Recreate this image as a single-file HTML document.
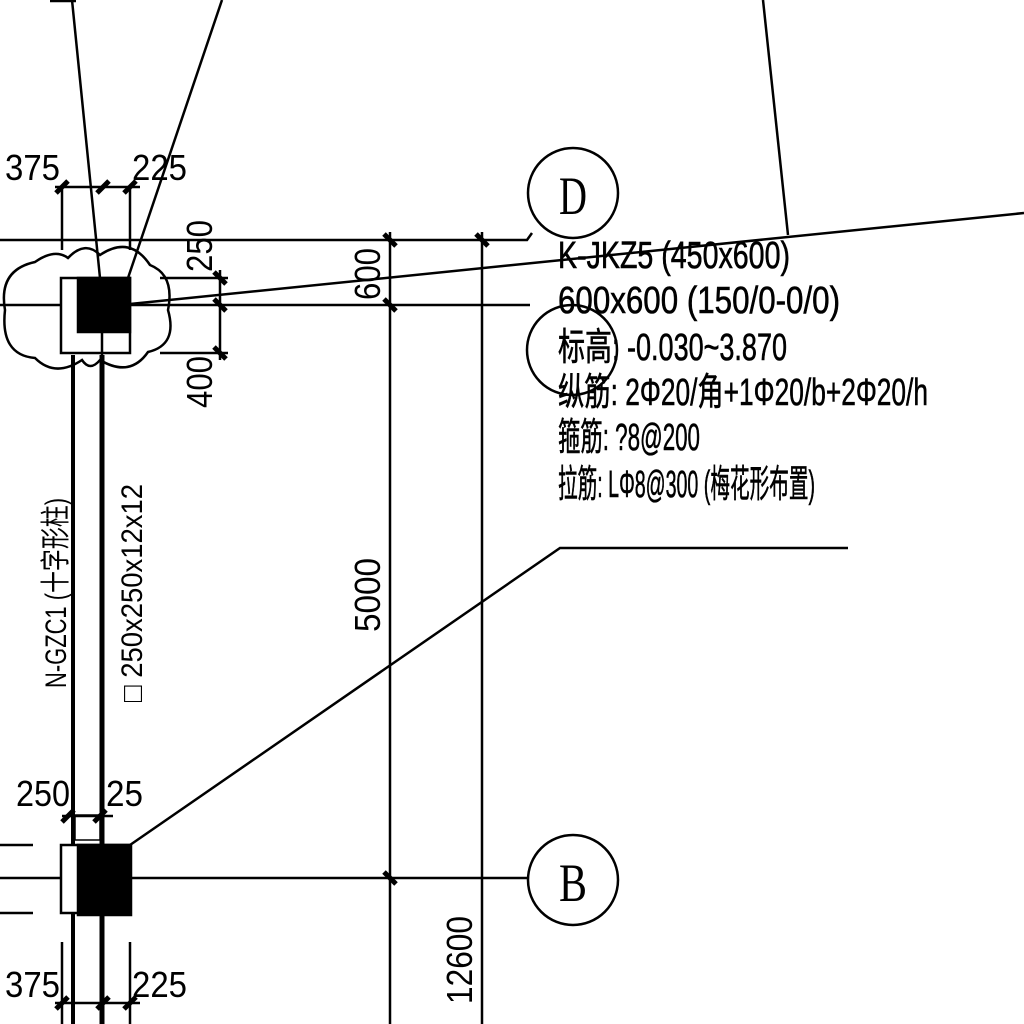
<!DOCTYPE html>
<html><head><meta charset="utf-8"><style>
html,body{margin:0;padding:0;background:#fff;}
svg{display:block}
text{font-family:"Liberation Sans","Noto Sans CJK SC",sans-serif;fill:#000;}
</style></head><body>
<svg width="1024" height="1024" viewBox="0 0 1024 1024" stroke="#000" fill="none" stroke-width="2.5">
<g>
<line x1="50" y1="1" x2="76" y2="1"/>
<line x1="72" y1="0" x2="100" y2="278"/>
<line x1="222" y1="0" x2="128" y2="278"/>
<line x1="763" y1="0" x2="788" y2="235"/>
<line x1="130" y1="304" x2="1024" y2="213"/>
<polyline points="130,845 560,548 848,548"/>
</g>
<g>
<polyline points="0,240 527,240 532,233"/>
<line x1="0" y1="305" x2="530" y2="305"/>
<line x1="0" y1="878" x2="528" y2="878"/>
<line x1="0" y1="845" x2="33" y2="845"/>
<line x1="0" y1="913" x2="33" y2="913"/>
</g>
<g>
<circle cx="573" cy="193" r="45"/>
<circle cx="572" cy="350" r="45"/>
<circle cx="573" cy="880" r="45"/>
</g>
<text x="573" y="214" font-size="54" text-anchor="middle" stroke="none" style="font-family:'Liberation Serif',serif" textLength="28" lengthAdjust="spacingAndGlyphs">D</text>
<text x="573" y="901" font-size="54" text-anchor="middle" stroke="none" style="font-family:'Liberation Serif',serif" textLength="28" lengthAdjust="spacingAndGlyphs">B</text>
<path d="M68,258 Q85,240 100,255 Q130,235 150,265 Q175,275 168,310 Q178,345 148,352 Q130,378 100,360 Q90,372 82,360 Q55,378 35,358 Q0,355 5,310 Q-2,270 35,262 Q55,248 68,258 Z"/>
<g>
<rect x="61" y="278" width="69" height="75" fill="#fff"/>
<rect x="78" y="278" width="52" height="54" fill="#000"/>
</g>
<g>
<line x1="73" y1="355" x2="73" y2="1024" stroke-width="4"/>
<line x1="102" y1="355" x2="102" y2="1024" stroke-width="5"/>
<line x1="102" y1="305" x2="102" y2="355"/>
<rect x="75" y="815" width="25" height="25" fill="#fff" stroke-width="1.5"/>
</g>
<g>
<rect x="61" y="845" width="69" height="68" fill="#fff"/>
<rect x="78" y="845" width="53" height="70" fill="#000"/>
</g>
<g stroke-width="2.5">
<line x1="55" y1="187" x2="140" y2="187"/>
<line x1="62" y1="187" x2="62" y2="250"/><line x1="130" y1="187" x2="130" y2="250"/>
<line x1="55" y1="1003" x2="140" y2="1003"/>
<line x1="62" y1="942" x2="62" y2="1024"/><line x1="130" y1="942" x2="130" y2="1024"/>
<line x1="62" y1="816" x2="113" y2="816"/>
<line x1="220" y1="270" x2="220" y2="360"/>
<line x1="160" y1="278" x2="228" y2="278"/><line x1="160" y1="353" x2="228" y2="353"/>
<line x1="390" y1="232" x2="390" y2="1024"/>
<line x1="482" y1="232" x2="482" y2="1024"/>
<g stroke-width="5">
<line x1="56" y1="193" x2="68" y2="181"/><line x1="97" y1="193" x2="109" y2="181"/><line x1="124" y1="193" x2="136" y2="181"/>
<line x1="56" y1="1009" x2="68" y2="997"/><line x1="97" y1="1009" x2="109" y2="997"/><line x1="124" y1="1009" x2="136" y2="997"/>
<line x1="62" y1="822" x2="74" y2="810"/><line x1="94" y1="822" x2="106" y2="810"/>
<line x1="214" y1="272" x2="226" y2="284"/><line x1="214" y1="299" x2="226" y2="311"/><line x1="214" y1="347" x2="226" y2="359"/>
<line x1="384" y1="234" x2="396" y2="246"/><line x1="384" y1="299" x2="396" y2="311"/><line x1="384" y1="872" x2="396" y2="884"/>
<line x1="476" y1="234" x2="488" y2="246"/>
</g>
</g>
<g stroke="none" font-size="36">
<text x="5" y="180" textLength="55" lengthAdjust="spacingAndGlyphs">375</text>
<text x="132" y="180" textLength="55" lengthAdjust="spacingAndGlyphs">225</text>
<text x="16" y="806" textLength="54" lengthAdjust="spacingAndGlyphs">250</text>
<text x="106" y="806" textLength="37" lengthAdjust="spacingAndGlyphs">25</text>
<text x="5" y="997" textLength="55" lengthAdjust="spacingAndGlyphs">375</text>
<text x="132" y="997" textLength="55" lengthAdjust="spacingAndGlyphs">225</text>
<text transform="translate(212,272) rotate(-90)" textLength="52" lengthAdjust="spacingAndGlyphs">250</text>
<text transform="translate(212,408) rotate(-90)" textLength="52" lengthAdjust="spacingAndGlyphs">400</text>
<text transform="translate(380,300) rotate(-90)" textLength="52" lengthAdjust="spacingAndGlyphs">600</text>
<text transform="translate(380,632) rotate(-90)" textLength="74" lengthAdjust="spacingAndGlyphs">5000</text>
<text transform="translate(472,1004) rotate(-90)" textLength="88" lengthAdjust="spacingAndGlyphs">12600</text>
<text transform="translate(66,688) rotate(-90)" font-size="30" textLength="190" lengthAdjust="spacingAndGlyphs">N-GZC1 (十字形柱)</text>
<text transform="translate(142,702) rotate(-90)" font-size="30" textLength="218" lengthAdjust="spacingAndGlyphs">□ 250x250x12x12</text>
</g>
<g stroke="#000" stroke-width="0.6" font-size="38">
<text x="558" y="268" textLength="232" lengthAdjust="spacingAndGlyphs">K-JKZ5 (450x600)</text>
<text x="558" y="313" textLength="282" lengthAdjust="spacingAndGlyphs">600x600 (150/0-0/0)</text>
<text x="558" y="360" textLength="229" lengthAdjust="spacingAndGlyphs">标高: -0.030~3.870</text>
<text x="558" y="405" textLength="370" lengthAdjust="spacingAndGlyphs">纵筋: 2Φ20/角+1Φ20/b+2Φ20/h</text>
<text x="558" y="450" textLength="142" lengthAdjust="spacingAndGlyphs">箍筋: ?8@200</text>
<text x="558" y="497" textLength="257" lengthAdjust="spacingAndGlyphs">拉筋: LΦ8@300 (梅花形布置)</text>
</g>
</svg>
</body></html>
